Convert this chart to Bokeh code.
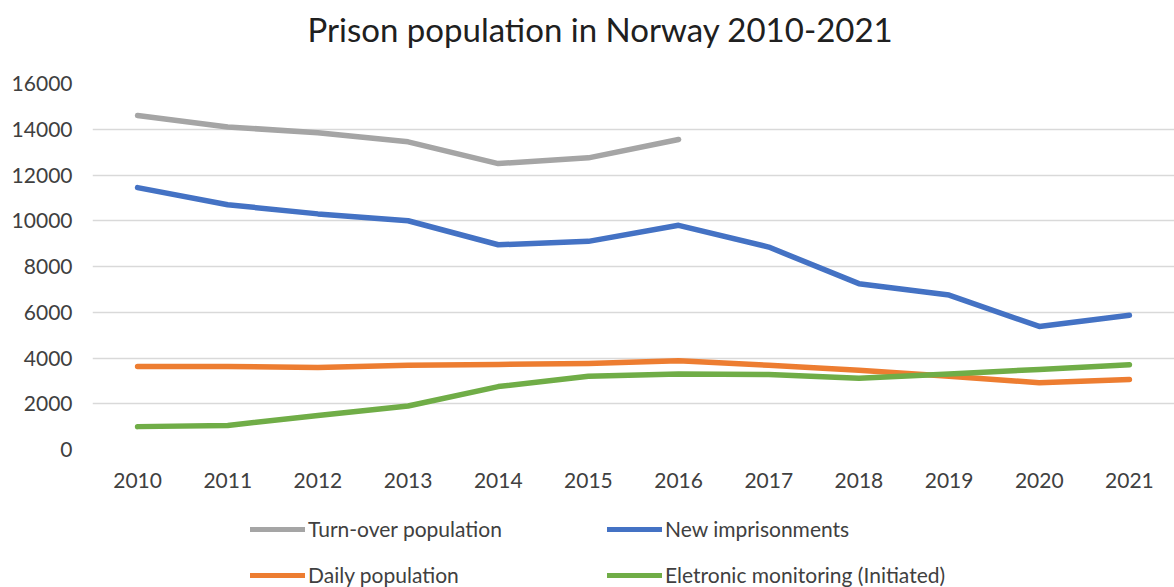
from bokeh.plotting import figure
from bokeh.layouts import column
from bokeh.models import Legend, LegendItem, FactorRange, Range1d, SingleIntervalTicker, Label
from bokeh.embed import file_html
from bokeh.resources import INLINE

title_text = "Prison population in Norway 2010-2021"
years = [str(y) for y in range(2010, 2022)]
turnover_years = years[:7]
turnover = [14600, 14100, 13850, 13450, 12500, 12750, 13550]
new_imprisonments = [11450, 10700, 10300, 10000, 8950, 9100, 9800, 8850, 7250, 6750, 5380, 5870]
daily_population = [3630, 3630, 3590, 3680, 3720, 3760, 3880, 3680, 3460, 3200, 2920, 3060]
electronic_monitoring = [1000, 1050, 1490, 1900, 2750, 3200, 3300, 3280, 3120, 3300, 3500, 3710]

series_labels = ["Turn-over population", "New imprisonments", "Daily population",
                 "Eletronic monitoring (Initiated)"]
colors = ["#A5A5A5", "#4472C4", "#ED7D31", "#70AD47"]

FONT = "Lato"
TXT = "#404040"


def blank_fig(h):
    f = figure(width=1174, height=h, output_backend="svg", toolbar_location=None,
               x_axis_type=None, y_axis_type=None, x_range=Range1d(0, 1), y_range=Range1d(0, 1),
               min_border_left=0, min_border_right=0, min_border_top=0, min_border_bottom=0)
    f.title = None
    f.outline_line_color = None
    f.xgrid.grid_line_color = None
    f.ygrid.grid_line_color = None
    return f


# title strip
tf = blank_fig(70)
tf.add_layout(Label(x=508, y=42, x_units="screen", y_units="screen", text=title_text,
                    text_align="center", text_baseline="middle", text_font=FONT,
                    text_font_size="33px", text_color="#202020"))

# main chart
p = figure(width=1174, height=435, x_range=FactorRange(*years), y_range=Range1d(0, 16000),
           output_backend="svg", toolbar_location=None,
           min_border_left=92, min_border_right=0, min_border_top=13, min_border_bottom=56)
p.title = None
p.outline_line_color = None
p.xgrid.grid_line_color = None
p.ygrid.grid_line_color = "#D9D9D9"
p.ygrid.grid_line_width = 1.5
p.yaxis.ticker = SingleIntervalTicker(interval=2000)

for ax in (p.xaxis, p.yaxis):
    ax.axis_line_color = None
    ax.major_tick_line_color = None
    ax.minor_tick_line_color = None
    ax.major_label_text_font = FONT
    ax.major_label_text_font_size = "21px"
    ax.major_label_text_color = TXT
p.yaxis.major_label_standoff = 14
p.xaxis.major_label_standoff = 17

kw = dict(line_width=5.5, line_cap="round", line_join="round")
p.line(turnover_years, turnover, line_color=colors[0], **kw)
p.line(years, new_imprisonments, line_color=colors[1], **kw)
p.line(years, daily_population, line_color=colors[2], **kw)
p.line(years, electronic_monitoring, line_color=colors[3], **kw)

# legend strip below the chart (proxy renderers hold no visible data)
lg = blank_fig(82)
nan = float("nan")
proxies = [lg.line([nan], [nan], line_color=c, line_width=5, line_cap="round") for c in colors]

order = [0, 2, 1, 3]
legend = Legend(items=[LegendItem(label=series_labels[i], renderers=[proxies[i]]) for i in order],
                ncols=2, location=(158, 0))
legend.border_line_color = None
legend.background_fill_alpha = 0
legend.label_text_font = FONT
legend.label_text_font_size = "21px"
legend.label_text_color = TXT
legend.glyph_width = 55
legend.glyph_height = 20
legend.label_height = 20
legend.label_width = 278
legend.label_standoff = 3
legend.spacing = 21
legend.padding = 0
legend.margin = 0
lg.add_layout(legend, "center")

layout = column(tf, p, lg, spacing=0)
open("out.html", "w").write(file_html(layout, INLINE))
